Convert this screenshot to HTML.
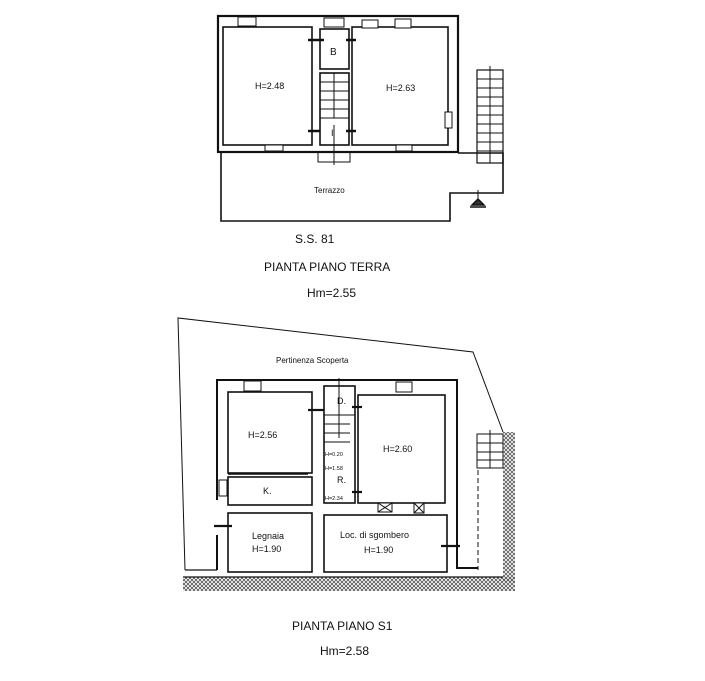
<!DOCTYPE html>
<html><head><style>html,body{margin:0;padding:0;background:#fff}svg{display:block}text{font-family:"Liberation Sans",sans-serif;fill:#111}</style></head>
<body>
<svg width="705" height="681" viewBox="0 0 705 681" xmlns="http://www.w3.org/2000/svg">
<defs>
<pattern id="h" width="4" height="4" patternUnits="userSpaceOnUse"><path d="M0 4L4 0M0 0L4 4" stroke="#555" stroke-width="0.8"/></pattern>
</defs>
<g fill="none" stroke="#111" stroke-width="1.6">
<!-- TOP PLAN -->
<rect x="218" y="16" width="240" height="136" stroke-width="2.2"/>
<rect x="223" y="27" width="89" height="118"/>
<rect x="352" y="27" width="96" height="118"/>
<rect x="320" y="29" width="29" height="40"/>
<rect x="320" y="73" width="29" height="72"/>
<g stroke-width="1">
<line x1="320" y1="82" x2="349" y2="82"/><line x1="320" y1="91" x2="349" y2="91"/><line x1="320" y1="100" x2="349" y2="100"/><line x1="320" y1="109" x2="349" y2="109"/><line x1="320" y1="118" x2="349" y2="118"/>
<line x1="334" y1="73" x2="334" y2="118"/>
<line x1="334" y1="125" x2="334" y2="165"/>
</g>
<rect x="318" y="152" width="32" height="10" stroke-width="1"/>
<!-- windows -->
<g stroke-width="1" fill="#fff">
<rect x="238" y="17" width="18" height="9"/><rect x="324" y="18" width="20" height="9"/><rect x="362" y="20" width="16" height="8"/><rect x="395" y="19" width="16" height="9"/>
<rect x="265" y="145" width="18" height="6"/><rect x="396" y="145" width="16" height="6"/><rect x="445" y="112" width="7" height="16"/>
</g>
<g stroke-width="2.5"><line x1="308" y1="40" x2="324" y2="40"/><line x1="346" y1="40" x2="356" y2="40"/><line x1="308" y1="131" x2="320" y2="131"/><line x1="346" y1="131" x2="356" y2="131"/></g>
<!-- terrace -->
<path d="M221 152 L221 221 L450 221 L450 193 L503 193 L503 153 L458 153"/>
<!-- external stair -->
<rect x="477" y="70" width="26" height="93" stroke-width="1.2"/>
<g stroke-width="1"><line x1="477" y1="79" x2="503" y2="79"/><line x1="477" y1="88" x2="503" y2="88"/><line x1="477" y1="97" x2="503" y2="97"/><line x1="477" y1="106" x2="503" y2="106"/><line x1="477" y1="115" x2="503" y2="115"/><line x1="477" y1="124" x2="503" y2="124"/><line x1="477" y1="133" x2="503" y2="133"/><line x1="477" y1="142" x2="503" y2="142"/><line x1="477" y1="151" x2="503" y2="151"/><line x1="490" y1="66" x2="490" y2="163"/></g>
<path d="M472 205 L478 199 L484 205 Z M470 207 L486 207" stroke-width="1.5" fill="#333"/>
<line x1="478" y1="190" x2="478" y2="199" stroke-width="1"/>

<!-- BOTTOM PLAN -->
<path d="M185 570 L178 318 L473 352 L503 432" stroke-width="1"/>
<line x1="185" y1="570" x2="217" y2="570" stroke-width="1.2"/>
<path d="M217 500 L217 380 L457 380 L457 568 L478 568" stroke-width="2"/>
<path d="M217 535 L217 570" stroke-width="2"/>
<rect x="228" y="392" width="84" height="81"/>
<rect x="228" y="477" width="84" height="28"/>
<rect x="228" y="513" width="84" height="59"/>
<rect x="324" y="515" width="123" height="57"/>
<rect x="358" y="395" width="87" height="108"/>
<rect x="324" y="386" width="31" height="117"/>
<g stroke-width="1">
<line x1="324" y1="415" x2="355" y2="415"/><line x1="324" y1="424" x2="350" y2="424"/><line x1="324" y1="433" x2="350" y2="433"/><line x1="324" y1="442" x2="350" y2="442"/>
<line x1="339" y1="378" x2="339" y2="438"/>
<line x1="478" y1="470" x2="478" y2="570" stroke-dasharray="5,3"/>
<rect x="477" y="434" width="26" height="34"/><line x1="477" y1="443" x2="503" y2="443"/><line x1="477" y1="452" x2="503" y2="452"/><line x1="477" y1="460" x2="503" y2="460"/><line x1="490" y1="430" x2="490" y2="468"/>
</g>
<g stroke-width="1" fill="#fff">
<rect x="244" y="381" width="17" height="10"/><rect x="396" y="382" width="16" height="10"/><rect x="219" y="480" width="8" height="16"/>
<rect x="378" y="503" width="14" height="9"/><rect x="414" y="503" width="10" height="10"/>
<path d="M378 503L392 512M392 503L378 512M414 503L424 513M424 503L414 513"/>
</g>
<g stroke-width="2.2"><line x1="308" y1="410" x2="324" y2="410"/><line x1="352" y1="407" x2="362" y2="407"/><line x1="352" y1="492" x2="362" y2="492"/><line x1="214" y1="526" x2="232" y2="526"/><line x1="441" y1="546" x2="460" y2="546"/><line x1="228" y1="474" x2="308" y2="474" stroke-width="1.5"/></g>
<rect x="183" y="577" width="332" height="14" fill="url(#h)" stroke="none"/>
<rect x="503" y="432" width="12" height="150" fill="url(#h)" stroke="none"/>
<line x1="183" y1="577" x2="503" y2="577" stroke-width="1.2"/>
</g>
<g font-size="9">
<text x="255" y="89">H=2.48</text>
<text x="386" y="91">H=2.63</text>
<text x="330" y="55" font-size="10">B</text>
<text x="331" y="136" font-size="9">I</text>
<text x="314" y="193" font-size="8">Terrazzo</text>
<text x="276" y="363" font-size="8">Pertinenza Scoperta</text>
<text x="248" y="438">H=2.56</text>
<text x="383" y="452">H=2.60</text>
<text x="337" y="404">D.</text>
<text x="337" y="483">R.</text>
<text x="325" y="456" font-size="5.5">H=0.20</text>
<text x="325" y="470" font-size="5.5">H=1.58</text>
<text x="325" y="500" font-size="5.5">H=2.34</text>
<text x="263" y="494">K.</text>
<text x="252" y="539">Legnaia</text>
<text x="252" y="552">H=1.90</text>
<text x="340" y="538">Loc. di sgombero</text>
<text x="364" y="553">H=1.90</text>
</g>
<g font-size="12">
<text x="295" y="243">S.S. 81</text>
<text x="264" y="271">PIANTA PIANO TERRA</text>
<text x="307" y="297">Hm=2.55</text>
<text x="292" y="630">PIANTA PIANO S1</text>
<text x="320" y="655">Hm=2.58</text>
</g>
</svg>
</body></html>
